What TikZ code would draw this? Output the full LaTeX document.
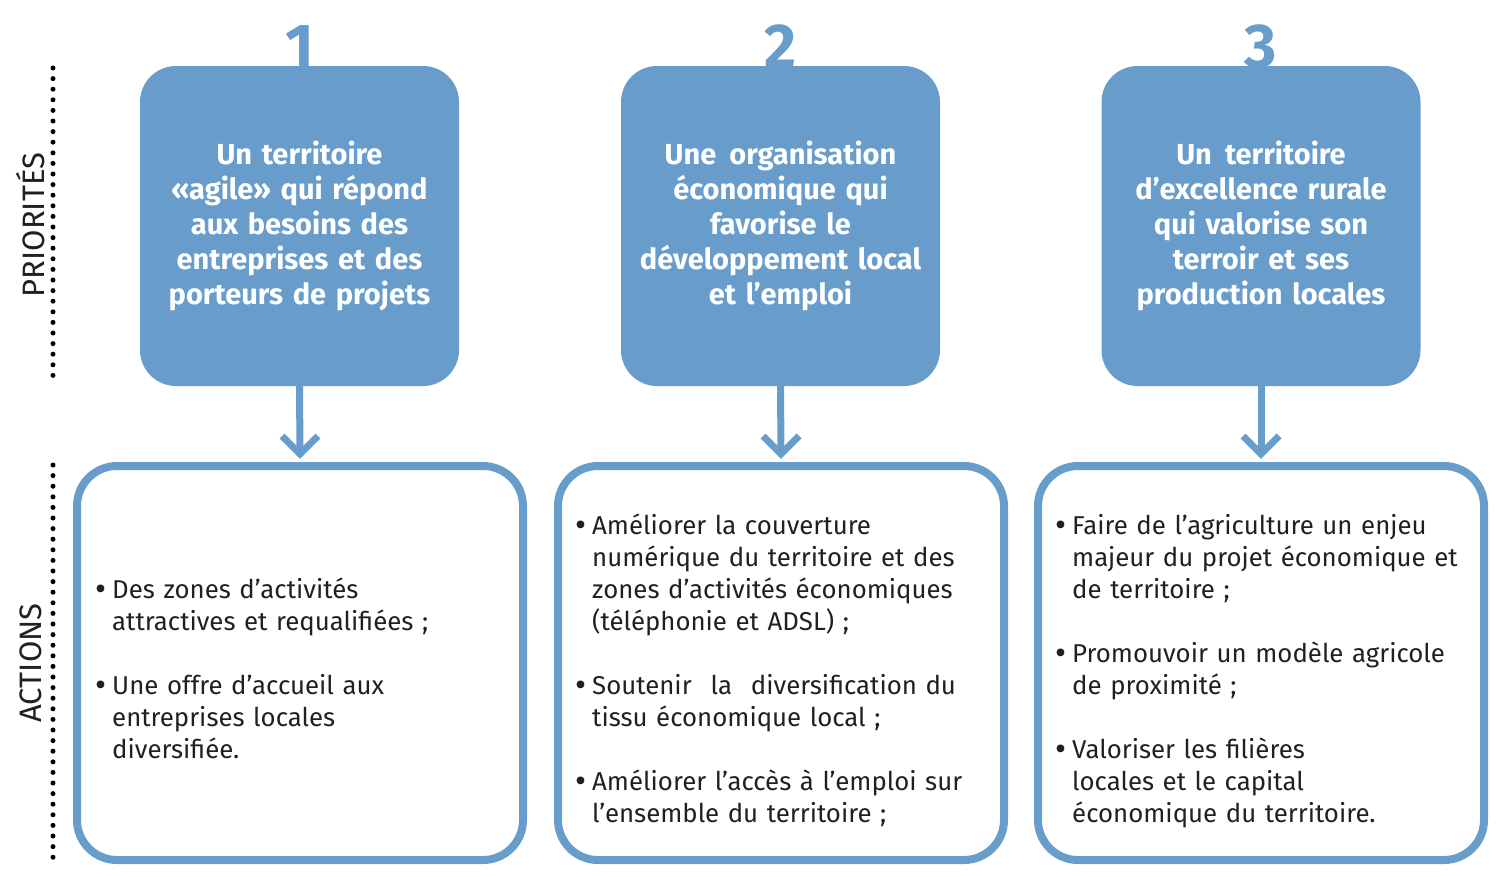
\documentclass[tikz,border=0pt]{standalone}
\usepackage{fontspec}
\setmainfont{Fira Sans}
\setsansfont{Fira Sans}
\usetikzlibrary{calc}
\definecolor{blu}{RGB}{104,157,203}
\definecolor{ink}{RGB}{35,31,32}
\newcommand{\bul}{\leavevmode\llap{\raisebox{-2.5pt}{\fontsize{34}{32}\selectfont\textbullet}\hspace{6pt}}}
\begin{document}
\begin{tikzpicture}[x=1pt,y=-1pt,
  prio/.style={fill=blu, draw=none, rounded corners=36pt, minimum width=319pt, minimum height=320pt, text width=314pt, align=center, text=white, font=\bfseries\fontsize{29}{35.2}\selectfont, inner sep=0pt},
  act/.style={draw=blu, line width=8pt, rounded corners=40pt, minimum width=446pt, minimum height=394pt, inner sep=0pt},
  num/.style={text=blu, font=\bfseries\fontsize{62}{62}\selectfont, inner sep=0pt, anchor=base},
  body/.style={text=ink, font=\fontsize{25.8}{32}\selectfont, align=left, text width=400pt, anchor=base west, inner sep=0pt},
  conn/.style={draw=blu, line width=7pt},
  tip/.style={draw=blu, line width=7pt, miter limit=10},
  side/.style={text=ink, font=\fontsize{31}{31}\selectfont, rotate=90, inner sep=0pt},
  dots/.style={draw=black, line width=5pt, line cap=round, dash pattern=on 0pt off 10.6pt}
]
\useasboundingbox (0,0) rectangle (1497,876);

% priorities
\node[prio] (p1) at (299.5,226) {Un territoire\\ «agile» qui répond\\ aux besoins des\\ entreprises et des\\ porteurs de projets};
\node[prio] (p2) at (780.5,226) {Une\hspace{0.45em}organisation\\ économique qui\\ favorise le\\ développement local\\ et l’emploi};
\node[prio] (p3) at (1261,226) {Un\hspace{0.45em}territoire\\ d’excellence rurale\\ qui valorise son\\ terroir et ses\\ production locales};

\node[num] (n1) at (299.5,67) {1};
\node[num] (n2) at (780.5,67) {2};
\node[num] (n3) at (1261,67) {3};

% actions
\node[act] (a1) at (300,663) {};
\node[act] (a2) at (781,663) {};
\node[act] (a3) at (1261,663) {};

\node[body] (t1) at (112,598) {\bul Des zones d’activités\\ attractives et requalifiées ;\\[32pt]\bul Une offre d’accueil aux\\ entreprises locales\\ diversifiée.};
\node[body] (t2) at (592,534) {\bul Améliorer la couverture\\ numérique du territoire et des\\ zones d’activités économiques\\ (téléphonie et ADSL) ;\\[32pt]\bul Soutenir\hspace{0.4em} la\hspace{0.4em} diversification du\\ tissu économique local ;\\[32pt]\bul Améliorer l’accès à l’emploi sur\\ l’ensemble du territoire ;};
\node[body] (t3) at (1072,534) {\bul Faire de l’agriculture un enjeu\\ majeur du projet économique et\\ de territoire ;\\[32pt]\bul Promouvoir un modèle agricole\\ de proximité ;\\[32pt]\bul Valoriser les filières\\ locales et le capital\\ économique du territoire.};

% connectors
\foreach \i in {1,2,3}{
  \draw[conn] (p\i.south) -- ($(a\i.north)+(0,-9)$);
  \draw[tip] ($(a\i.north)+(-18,-26)$) -- ($(a\i.north)+(0,-8)$) -- ($(a\i.north)+(18,-26)$);
}

% side labels
\draw[dots] (53,68) -- (53,384);
\draw[dots] (53,465) -- (53,862);
\node[side] (s1) at (31,225) {PRIORITÉS};
\node[side] (s2) at (31,663) {ACTIONS};
\end{tikzpicture}
\end{document}
